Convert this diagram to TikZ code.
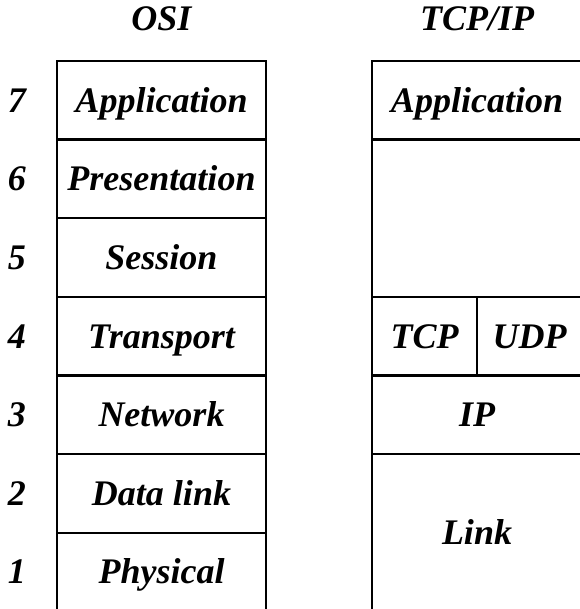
\documentclass[tikz,border=0pt]{standalone}
\usepackage{fontspec}
\setmainfont{Liberation Serif}
\usetikzlibrary{positioning}

\tikzset{
  label font/.style={font=\bfseries\itshape\fontsize{36}{40}\selectfont,
    text height=25pt, text depth=1pt},
  layer/.style={draw, line width=2.2pt, outer sep=0pt, inner sep=0pt,
    minimum width=209pt, minimum height=78.6pt, label font},
  tall/.style={minimum height=157.2pt},
  half/.style={layer, minimum width=105pt},
  wide/.style={layer, minimum width=210pt},
  num/.style={label font, inner sep=0pt},
  head/.style={label font, inner sep=0pt}
}

\begin{document}
\begin{tikzpicture}[x=1pt,y=-1pt]
  \useasboundingbox (0,0) rectangle (579,609);

  % OSI stack
  \node[layer] (app) at (161.5,100.3) {Application};
  \node[layer, below=0pt of app] (pres) {Presentation};
  \node[layer, below=0pt of pres] (sess) {Session};
  \node[layer, below=0pt of sess] (trans) {Transport};
  \node[layer, below=0pt of trans] (net) {Network};
  \node[layer, below=0pt of net] (dlink) {Data link};
  \node[layer, below=0pt of dlink] (phys) {Physical};

  % layer numbers
  \foreach \n/\l in {7/app,6/pres,5/sess,4/trans,3/net,2/dlink,1/phys}
    \node[num] (n\n) at ([xshift=-144.5pt]\l.center) {\n};

  % TCP/IP stack
  \node[wide] (tapp) at (477,100.3) {Application};
  \node[wide, tall, below=0pt of tapp] (tmid) {};
  \node[half, below=0pt of tmid.south west, anchor=north west] (tcp) {TCP};
  \node[half, right=0pt of tcp] (udp) {UDP};
  \node[wide, below=0pt of tcp.south east] (ip) {IP};
  \node[wide, tall, below=0pt of ip] (link) {Link};

  % headings
  \node[head] (osi) at ([yshift=82pt]app.center) {OSI};
  \node[head] (tcpip) at ([yshift=82pt]tapp.center) {TCP/IP};
\end{tikzpicture}
\end{document}
